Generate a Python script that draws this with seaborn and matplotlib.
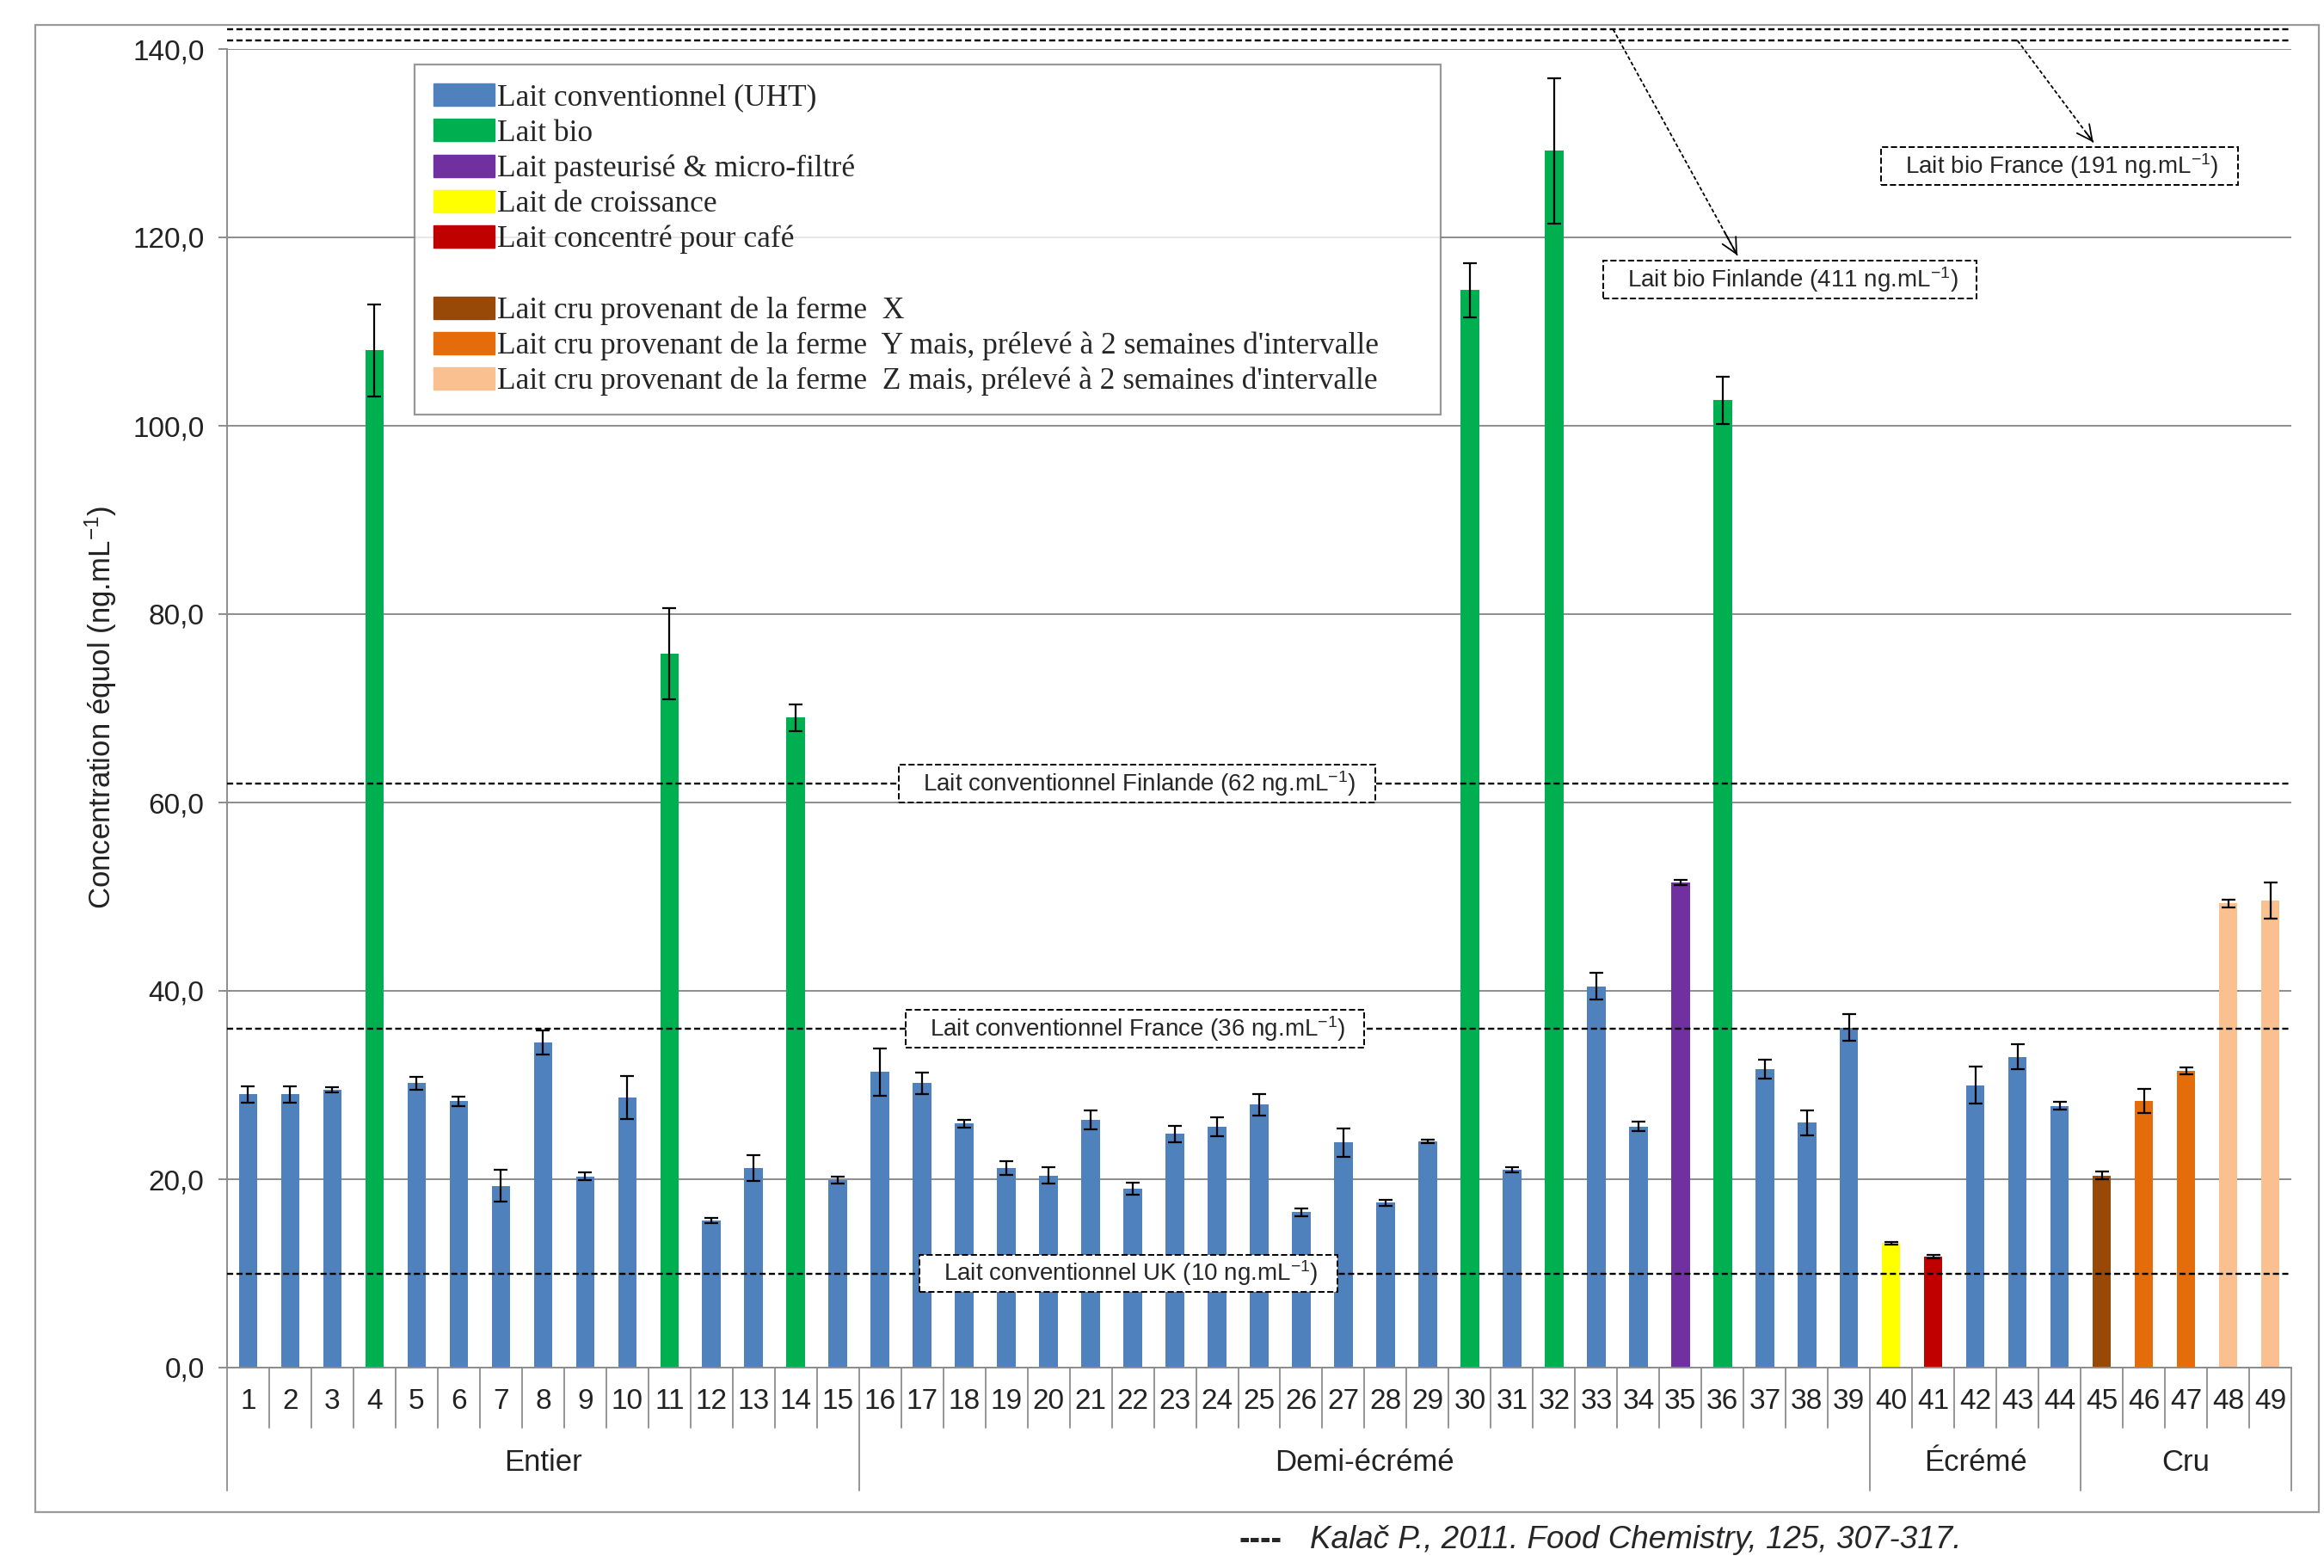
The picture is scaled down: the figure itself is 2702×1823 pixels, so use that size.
import numpy as np
import pandas as pd
import matplotlib
matplotlib.use("Agg")
import matplotlib.pyplot as plt
from matplotlib.patches import Patch, Rectangle
import seaborn as sns

# ---------------- data ----------------
samples = [str(i) for i in range(1, 50)]
types = ["UHT", "UHT", "UHT", "BIO", "UHT", "UHT", "UHT", "UHT", "UHT", "UHT",
         "BIO", "UHT", "UHT", "BIO", "UHT", "UHT", "UHT", "UHT", "UHT", "UHT",
         "UHT", "UHT", "UHT", "UHT", "UHT", "UHT", "UHT", "UHT", "UHT", "BIO",
         "UHT", "BIO", "UHT", "UHT", "PAST", "BIO", "UHT", "UHT", "UHT", "CROI",
         "CAFE", "UHT", "UHT", "UHT", "X", "Y", "Y", "Z", "Z"]
values = [29.0, 29.0, 29.5, 108.0, 30.2, 28.3, 19.3, 34.5, 20.3, 28.7,
          75.8, 15.6, 21.2, 69.0, 19.9, 31.4, 30.2, 25.9, 21.2, 20.4,
          26.3, 19.0, 24.8, 25.6, 27.9, 16.5, 23.9, 17.5, 24.0, 114.4,
          21.0, 129.2, 40.5, 25.6, 51.5, 102.7, 31.7, 26.0, 36.1, 13.2,
          11.8, 30.0, 33.0, 27.8, 20.4, 28.3, 31.5, 49.3, 49.6]
errors = [0.85, 0.85, 0.3, 4.9, 0.7, 0.5, 1.7, 1.3, 0.4, 2.3,
          4.8, 0.3, 1.4, 1.4, 0.4, 2.5, 1.15, 0.4, 0.75, 0.85,
          1.0, 0.65, 0.9, 1.0, 1.15, 0.4, 1.5, 0.3, 0.2, 2.85,
          0.3, 7.7, 1.4, 0.5, 0.3, 2.5, 1.0, 1.35, 1.4, 0.15,
          0.2, 2.0, 1.3, 0.4, 0.4, 1.25, 0.4, 0.4, 1.9]
type_keys = ["UHT", "BIO", "PAST", "CROI", "CAFE", "X", "Y", "Z"]
type_labels = ["Lait conventionnel (UHT)", "Lait bio", "Lait pasteurisé & micro-filtré",
               "Lait de croissance", "Lait concentré pour café",
               "Lait cru provenant de la ferme  X",
               "Lait cru provenant de la ferme  Y mais, prélevé à 2 semaines d'intervalle",
               "Lait cru provenant de la ferme  Z mais, prélevé à 2 semaines d'intervalle"]
type_colors = ["#4F81BD", "#00B050", "#7030A0", "#FFFF00", "#C00000",
               "#984807", "#E46C0A", "#FAC090"]
groups = ["Entier", "Demi-écrémé", "Écrémé", "Cru"]
group_sizes = [15, 24, 5, 5]
ref_values = [62, 36, 10]
ref_labels = ["Lait conventionnel Finlande (62 ng.mL$^{-1}$)",
              "Lait conventionnel France (36 ng.mL$^{-1}$)",
              "Lait conventionnel UK (10 ng.mL$^{-1}$)"]
bio_labels = ["Lait bio Finlande (411 ng.mL$^{-1}$)", "Lait bio France (191 ng.mL$^{-1}$)"]
yticks = [0, 20, 40, 60, 80, 100, 120, 140]
citation = "Kalač P., 2011. Food Chemistry, 125, 307-317."

# ---------------- style ----------------
sns.set_style("white")
plt.rcParams["font.family"] = ["Liberation Sans", "DejaVu Sans"]
plt.rcParams["mathtext.fontset"] = "custom"
plt.rcParams["mathtext.rm"] = "Liberation Sans"
plt.rcParams["mathtext.it"] = "Liberation Sans:italic"
plt.rcParams["mathtext.bf"] = "Liberation Sans:bold"

GRID = "#8c8c8c"
W, H = 2702, 1823
fig = plt.figure(figsize=(W / 100, H / 100), dpi=100)
fig.patch.set_facecolor("white")

ax_l, ax_r, ax_t, ax_b = 264, 2664, 57, 1590
ax = fig.add_axes([ax_l / W, 1 - ax_b / H, (ax_r - ax_l) / W, (ax_b - ax_t) / H])

df = pd.DataFrame({"sample": samples, "value": values, "type": types})
palette = dict(zip(type_keys, type_colors))
sns.barplot(data=df, x="sample", y="value", hue="type", order=samples,
            hue_order=type_keys, palette=palette, dodge=False, width=0.44,
            saturation=1, errorbar=None, legend=False, linewidth=0, ax=ax, zorder=2)
ax.errorbar(np.arange(len(samples)), values, yerr=errors, fmt="none", ecolor="black",
            elinewidth=1.6, capsize=6, capthick=1.6, zorder=3)

ax.set_xlim(-0.5, len(samples) - 0.5)
ax.set_ylim(0, 140)
ax.set_yticks(yticks)
ax.set_yticklabels([f"{v:.1f}".replace(".", ",") for v in yticks], fontsize=24, color="#222222")
ax.yaxis.grid(True, color=GRID, lw=1.4)
ax.xaxis.grid(False)
ax.set_axisbelow(True)
ax.tick_params(axis="y", direction="out", length=7, width=1.4, color=GRID, pad=12, left=True)
ax.tick_params(axis="x", length=0, pad=17, labelsize=24, labelcolor="#222222")
ax.set_xlabel("")
ax.set_ylabel("")
for s in ["top", "right"]:
    ax.spines[s].set_visible(False)
for s in ["left", "bottom"]:
    ax.spines[s].set_color(GRID)
    ax.spines[s].set_linewidth(1.4)

# category separators and group labels
xt = ax.get_xaxis_transform()
bounds = np.cumsum([0] + group_sizes) - 0.5
for k in range(len(samples) + 1):
    xpos = k - 0.5
    long = np.any(np.isclose(bounds, xpos))
    ax.plot([xpos, xpos], [0, -0.093 if long else -0.0457], transform=xt,
            color=GRID, lw=1.3, clip_on=False)
for g, a, b in zip(groups, bounds[:-1], bounds[1:]):
    ax.text((a + b) / 2, -0.072, g, transform=xt, ha="center", va="center",
            fontsize=25, color="#222222")

# reference lines
dash = (0, (3, 1.6))
box = dict(boxstyle="square,pad=0.18", fc="white", ec="black", ls="--", lw=1.4)
pad_sp = "   "
ref_x = [21.1, 21.05, 20.9]
for v, lab, xc in zip(ref_values, ref_labels, ref_x):
    ax.axhline(v, color="black", ls=dash, lw=1.7, zorder=4)
    ax.text(xc, v, pad_sp + lab + pad_sp, ha="center", va="center", fontsize=20,
            bbox=box, zorder=5)

# broken-scale lines for bio milks (above the 140 limit)
top_lines = [142.1, 140.9]
for yv in top_lines:
    ax.plot([-0.5, len(samples) - 0.5], [yv, yv], color="black", ls=dash, lw=1.7,
            clip_on=False, zorder=4)
bio_box_pos = [(36.6, 115.5), (43.0, 127.6)]
arrow_starts = [(32.4, top_lines[0]), (42.0, top_lines[1])]
arrow_ends = [(35.35, 118.1), (43.8, 130.1)]
for lab, (bx, by), (sx, sy), (ex, ey) in zip(bio_labels, bio_box_pos, arrow_starts, arrow_ends):
    ax.text(bx, by, pad_sp + lab + pad_sp, ha="center", va="center", fontsize=20,
            bbox=box, zorder=5)
    ax.plot([sx, ex], [sy, ey], color="black", ls=(0, (2.5, 1.5)), lw=1.3, clip_on=False, zorder=4)
    fx, fy = sx + (ex - sx) * 0.9, sy + (ey - sy) * 0.9
    ax.annotate("", xy=(ex, ey), xytext=(fx, fy),
                arrowprops=dict(arrowstyle="->", lw=1.3, color="black", mutation_scale=32,
                                shrinkA=0, shrinkB=0), zorder=4)

# legend
handles = []
labels = []
for i, (lab, col) in enumerate(zip(type_labels, type_colors)):
    if i == 5:
        handles.append(Patch(facecolor="none", edgecolor="none"))
        labels.append(" ")
    handles.append(Patch(facecolor=col, edgecolor=col))
    labels.append(lab)
leg = ax.legend(handles, labels, loc="upper left", bbox_to_anchor=(0.0908, 0.0, 0.497, 0.988),
                mode="expand", borderaxespad=0, frameon=True, fancybox=False,
                prop={"family": ["Liberation Serif", "DejaVu Serif"], "size": 25.5},
                handlelength=2.0, handleheight=0.75, handletextpad=0.08,
                labelspacing=0.22, borderpad=0.62)
leg.get_frame().set_edgecolor("#7f7f7f")
leg.get_frame().set_linewidth(1.6)
leg.set_zorder(6)

# y label
fig.text(117 / W, 1 - 822 / H, "Concentration équol (ng.mL$^{-1}$)", rotation=90,
         ha="center", va="center", fontsize=25, color="#222222")

# outer chart border
fig.patches.append(Rectangle((41 / W, 1 - 1758 / H), (2696 - 41) / W, (1758 - 29) / H,
                             transform=fig.transFigure, fill=False, ec="#9a9a9a", lw=1.6))

# citation
fig.text(1441 / W, 1 - 1791 / H, "----", fontsize=27, fontweight="bold", ha="left", va="center")
fig.text(1523 / W, 1 - 1791 / H, citation, fontsize=26.5, style="italic", ha="left", va="center")

fig.savefig("out.png", dpi=100, facecolor="white")
